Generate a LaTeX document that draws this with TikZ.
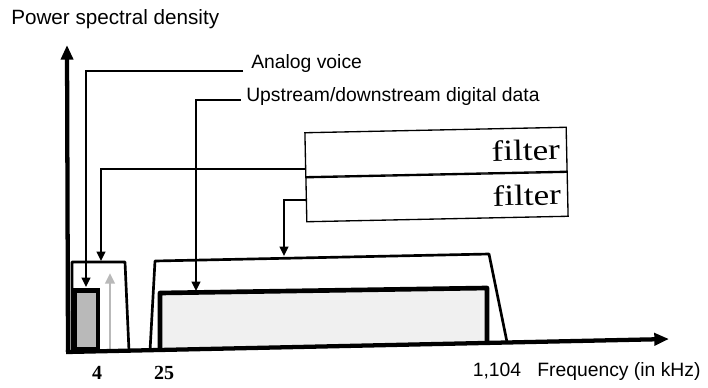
\documentclass[tikz,border=0pt]{standalone}
\usepackage{fontspec}
\setmainfont{Liberation Serif}
\setsansfont{Liberation Sans}
\newfontfamily\lblfont{Liberation Sans}
\newfontfamily\filterfont[FakeStretch=1.2]{Liberation Serif}
\usetikzlibrary{arrows.meta}
\begin{document}
\begin{tikzpicture}[x=0.75pt,y=-0.75pt,
  axisline/.style={line width=3.2pt,-{Triangle[length=11pt,width=9pt]}},
  conn/.style={line width=1.4pt,-{Triangle[length=7pt,width=6.5pt]}},
  trap/.style={line width=2pt,line join=round},
  lbl/.style={inner sep=0pt,font=\lblfont\fontsize{14.5}{17}\selectfont},
  numlbl/.style={inner sep=0pt,font=\bfseries\fontsize{15}{17}\selectfont},
  filterbox/.style={draw,line width=1pt,rotate=1.2,minimum width=196pt,minimum height=33pt,
    inner xsep=5pt,text width=186pt,align=right,font=\filterfont\fontsize{22}{24}\selectfont}
]
\useasboundingbox (0,0) rectangle (708,387);

% title
\node[lbl,anchor=west,font=\lblfont\fontsize{15.5}{18}\selectfont] (title) at (11,19) {Power spectral density};

% voice band
\draw[trap] (72,352) -- (72,262) -- (125,262) -- (129,351);
\fill[black] (72,288) rectangle (100,352);
\fill[gray!55] (77,293) rectangle (96,347);
\coordinate (vbartop) at (86,287);
\coordinate (vtraptop) at (101,261);
\coordinate (gbase) at (110,350);
\coordinate (gtip) at (110,273);
\draw[gray!55,line width=2.2pt,-{Triangle[length=8pt,width=7pt]}] (gbase) -- (gtip);

% data band
\draw[trap] (150,351) -- (155,261) -- (489,254) -- (507,342);
\filldraw[fill=gray!12,draw=black,line width=3.5pt,line join=round] (160,350) -- (160,293) -- (487,288) -- (487,343);
\coordinate (dbartop) at (196,291);
\coordinate (dtraptop) at (284,256);

% axes
\coordinate (origin) at (68,352);
\coordinate (ytip) at (67,45);
\coordinate (xstart) at (66,352);
\coordinate (xtip) at (669,339);
\draw[axisline] (origin) -- (ytip);
\draw[axisline] (xstart) -- (xtip);

% filters
\node[filterbox] (f1) at (436,152) {filter};
\node[filterbox] (f2) at (437,197) {filter};

% labels
\node[lbl,anchor=west] (av) at (251,63) {Analog voice};
\node[lbl,anchor=west] (ud) at (246,96) {Upstream/downstream digital data};

% connectors
\draw[conn] ([xshift=-6pt,yshift=-6pt]av.west) -| (vbartop);
\draw[conn] ([xshift=-4pt,yshift=-3pt]ud.west) -| (dbartop);
\draw[conn] ([yshift=-11pt]f1.west) -| (vtraptop);
\draw[conn] (f2.west) -| (dtraptop);

% axis labels
\node[numlbl] (l4) at (97,373) {4};
\node[numlbl] (l25) at (164,373) {25};
\node[lbl] (l1104) at (497,371) {1,104};
\node[lbl,anchor=west] (freq) at (537,371) {Frequency (in kHz)};
\end{tikzpicture}
\end{document}
